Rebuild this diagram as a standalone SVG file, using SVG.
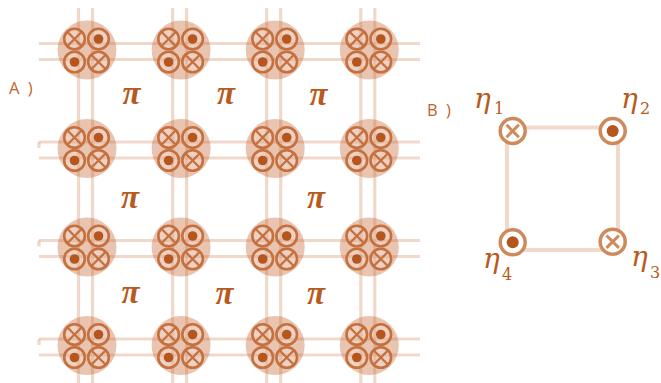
<svg xmlns="http://www.w3.org/2000/svg" xmlns:xlink="http://www.w3.org/1999/xlink" width="661" height="383" viewBox="0 0 661 383">
<style>
.grid{stroke:#c86e3c;stroke-opacity:0.27;stroke-width:3.2;fill:none}
.sq{stroke:#c86e3c;stroke-opacity:0.27;stroke-width:4;fill:none}
.big{fill:#c86e3c;fill-opacity:0.4}
.sm{fill:#ffffff;fill-opacity:0.22;stroke:#c4703f;stroke-width:2.6}
.xl{stroke:#c4703f;stroke-width:2.3}
.dot{fill:#b5561e}
.bc{fill:#ffffff;stroke:#cf8a5c;stroke-width:3.5}
.bx{stroke:#cf8a5c;stroke-width:3}
.lbl{font-family:"Open Sans","Liberation Sans",sans-serif;font-size:16.5px;fill:#c0622a;word-spacing:4px}
.pi{font-family:"Liberation Serif",serif;font-style:italic;font-weight:bold;font-size:33px;fill:#b85a20;text-anchor:middle}
.eta{font-family:"DejaVu Serif",serif;font-style:italic;font-size:28px;fill:#b85a20}
.sub{font-family:"DejaVu Serif",serif;font-size:16px;fill:#b85a20}
</style>
<defs>
<g id="node">
<circle class="big" cx="0.5" cy="-0.5" r="29.5"/>
<circle class="sm" cx="-12" cy="-11.5" r="10.3"/>
<line class="xl" x1="-19" y1="-18.5" x2="-5" y2="-4.5"/>
<line class="xl" x1="-5" y1="-18.5" x2="-19" y2="-4.5"/>
<circle class="sm" cx="12" cy="-11.5" r="10.3"/>
<circle class="dot" cx="12" cy="-11.5" r="4.8"/>
<circle class="sm" cx="-12" cy="11.5" r="10.3"/>
<circle class="dot" cx="-12" cy="11.5" r="4.8"/>
<circle class="sm" cx="12" cy="11.5" r="10.3"/>
<line class="xl" x1="5" y1="4.5" x2="19" y2="18.5"/>
<line class="xl" x1="19" y1="4.5" x2="5" y2="18.5"/>
</g>
</defs>
<g id="connectors">
<path class="grid" d="M39,43.5H420M39,59.5H420M39,142H420M39,158H420M39,240.5H420M39,256.5H420M39,339H420M39,355H420"/>
<path class="grid" d="M39,142v6M39,240.5v6M39,339v6"/>
<path class="grid" d="M78.5,8V383M92.5,8V383M172.6,8V383M186.6,8V383M266.7,8V383M280.7,8V383M360.8,8V383M374.8,8V383"/>
<path class="sq" d="M507,127.5H618V250H507Z"/>
</g>
<g id="n11"><use xlink:href="#node" x="86.5" y="50.5"/></g>
<g id="n12"><use xlink:href="#node" x="180.6" y="50.5"/></g>
<g id="n13"><use xlink:href="#node" x="274.7" y="50.5"/></g>
<g id="n14"><use xlink:href="#node" x="368.8" y="50.5"/></g>
<g id="n21"><use xlink:href="#node" x="86.5" y="149"/></g>
<g id="n22"><use xlink:href="#node" x="180.6" y="149"/></g>
<g id="n23"><use xlink:href="#node" x="274.7" y="149"/></g>
<g id="n24"><use xlink:href="#node" x="368.8" y="149"/></g>
<g id="n31"><use xlink:href="#node" x="86.5" y="247.5"/></g>
<g id="n32"><use xlink:href="#node" x="180.6" y="247.5"/></g>
<g id="n33"><use xlink:href="#node" x="274.7" y="247.5"/></g>
<g id="n34"><use xlink:href="#node" x="368.8" y="247.5"/></g>
<g id="n41"><use xlink:href="#node" x="86.5" y="346"/></g>
<g id="n42"><use xlink:href="#node" x="180.6" y="346"/></g>
<g id="n43"><use xlink:href="#node" x="274.7" y="346"/></g>
<g id="n44"><use xlink:href="#node" x="368.8" y="346"/></g>
<g id="plaquettes">
<text class="pi" x="131.5" y="104">π</text>
<text class="pi" x="226" y="104">π</text>
<text class="pi" x="318.5" y="105">π</text>
<text class="pi" x="130" y="208">π</text>
<text class="pi" x="316" y="208">π</text>
<text class="pi" x="130.5" y="303">π</text>
<text class="pi" x="224.5" y="304">π</text>
<text class="pi" x="316" y="304">π</text>
</g>
<text class="lbl" x="9" y="94">A )</text>
<text class="lbl" x="427" y="116">B )</text>
<g id="b1">
<circle class="bc" cx="512.7" cy="131" r="12.5"/>
<line class="bx" x1="506.5" y1="124.8" x2="518.9" y2="137.2"/>
<line class="bx" x1="518.9" y1="124.8" x2="506.5" y2="137.2"/>
<text class="eta" x="474" y="108">η</text><text class="sub" x="494" y="114">1</text>
</g>
<g id="b2">
<circle class="bc" cx="612.7" cy="131" r="12.5"/>
<circle class="dot" cx="612.7" cy="131" r="6"/>
<text class="eta" x="621" y="108">η</text><text class="sub" x="640" y="114">2</text>
</g>
<g id="b3">
<circle class="bc" cx="612.7" cy="241.7" r="12.5"/>
<line class="bx" x1="606.5" y1="235.5" x2="618.9" y2="247.9"/>
<line class="bx" x1="618.9" y1="235.5" x2="606.5" y2="247.9"/>
<text class="eta" x="631" y="266">η</text><text class="sub" x="650" y="278">3</text>
</g>
<g id="b4">
<circle class="bc" cx="512.7" cy="242.3" r="12.5"/>
<circle class="dot" cx="512.7" cy="242.3" r="6"/>
<text class="eta" x="483" y="268">η</text><text class="sub" x="502" y="280">4</text>
</g>
</svg>
